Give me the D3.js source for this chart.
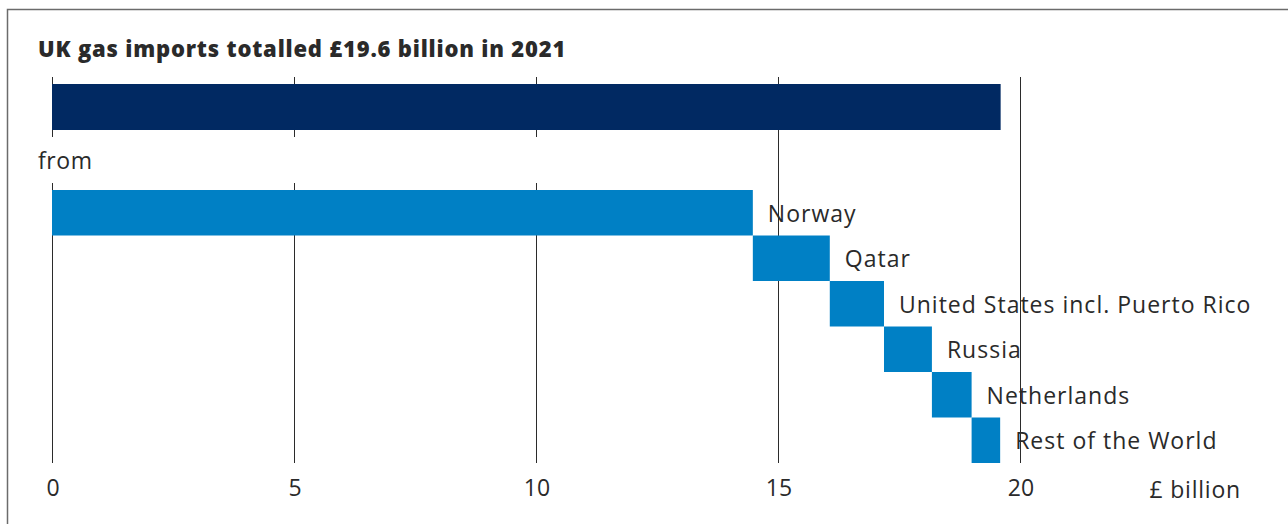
<!DOCTYPE html>
<html>
<head>
<meta charset="utf-8">
<script src="https://cdn.jsdelivr.net/npm/d3@7"></script>
<style>
  html, body { margin: 0; padding: 0; background: #fff; }
  svg { display: block; }
  text { font-family: "Open Sans", "Noto Sans", sans-serif; fill: #2a2a2a; }
</style>
</head>
<body>
<svg id="chart" width="1288" height="524"></svg>
<script>
// UK gas imports by source, 2021 (£ billion)
const title = "UK gas imports totalled £19.6 billion in 2021";
const total = 19.6;
const countries = ["Norway", "Qatar", "United States incl. Puerto Rico", "Russia", "Netherlands", "Rest of the World"];
const values = [14.48, 1.59, 1.12, 0.99, 0.82, 0.59];
const tickValues = [0, 5, 10, 15, 20];
const tickLabels = ["0", "5", "10", "15", "20"];
const unitLabel = "£ billion";
const fromLabel = "from";

const svg = d3.select("#chart");

// frame around the graphic
svg.append("rect")
  .attr("x", 7.5).attr("y", 9.5)
  .attr("width", 1300).attr("height", 540)
  .attr("fill", "none").attr("stroke", "#6b6b6b").attr("stroke-width", 1.5);

const x = d3.scaleLinear().domain([0, 20]).range([52, 1020]);

// cumulative start/end of each source, laid end to end
let acc = 0;
const segs = countries.map((c, i) => {
  const s = { name: c, start: acc, end: acc + values[i] };
  acc += values[i];
  return s;
});

const y = d3.scaleBand().domain(countries).range([190, 463]).padding(0);
const totalTop = 84, totalH = 46;
const gridTop = 77, gridBottom = 463;

// vertical gridlines
svg.append("g").selectAll("line")
  .data(tickValues).join("line")
  .attr("x1", d => x(d) + 0.5).attr("x2", d => x(d) + 0.5)
  .attr("y1", gridTop).attr("y2", gridBottom)
  .attr("stroke", "#2b2b2b").attr("stroke-width", 1);

// white panel behind the "from" caption
svg.append("rect")
  .attr("x", 30).attr("y", 137)
  .attr("width", x(values[0]) - 30).attr("height", 46)
  .attr("fill", "#fff");

svg.append("text")
  .attr("x", 38).attr("y", 160)
  .attr("dominant-baseline", "central")
  .style("font-size", "23px")
  .style("letter-spacing", "0.6px")
  .text(fromLabel);

// total bar
svg.append("rect")
  .attr("x", x(0)).attr("y", totalTop)
  .attr("width", x(total) - x(0)).attr("height", totalH)
  .attr("fill", "#012962");

// source bars
svg.append("g").selectAll("rect")
  .data(segs).join("rect")
  .attr("x", d => x(d.start))
  .attr("y", d => y(d.name))
  .attr("width", d => x(d.end) - x(d.start))
  .attr("height", y.bandwidth())
  .attr("fill", "#0080c5");

// source labels
svg.append("g").selectAll("text")
  .data(segs).join("text")
  .attr("x", d => x(d.end) + 15)
  .attr("y", d => y(d.name) + y.bandwidth() / 2)
  .attr("dominant-baseline", "central")
  .style("font-size", "23px")
  .style("letter-spacing", "1px")
  .text(d => d.name);

// x axis labels
const axis = d3.axisBottom(x)
  .tickValues(tickValues)
  .tickFormat((d, i) => tickLabels[i])
  .tickSize(0).tickPadding(17);
const ax = svg.append("g").attr("transform", `translate(0.5,${gridBottom})`).call(axis);
ax.select(".domain").remove();
ax.selectAll("text")
  .style("font-size", "23px")
  .style("font-family", "\"Open Sans\", \"Noto Sans\", sans-serif")
  .attr("fill", "#2a2a2a");

svg.append("text")
  .attr("x", 1241).attr("y", 489)
  .attr("text-anchor", "end")
  .attr("dominant-baseline", "central")
  .style("font-size", "23px")
  .style("letter-spacing", "0.8px")
  .text(unitLabel);

// title
svg.append("text")
  .attr("x", 38).attr("y", 57)
  .style("font-size", "22px")
  .style("font-weight", "800")
  .style("letter-spacing", "0.8px")
  .attr("fill", "#1a1a1a")
  .text(title);
</script>
</body>
</html>
